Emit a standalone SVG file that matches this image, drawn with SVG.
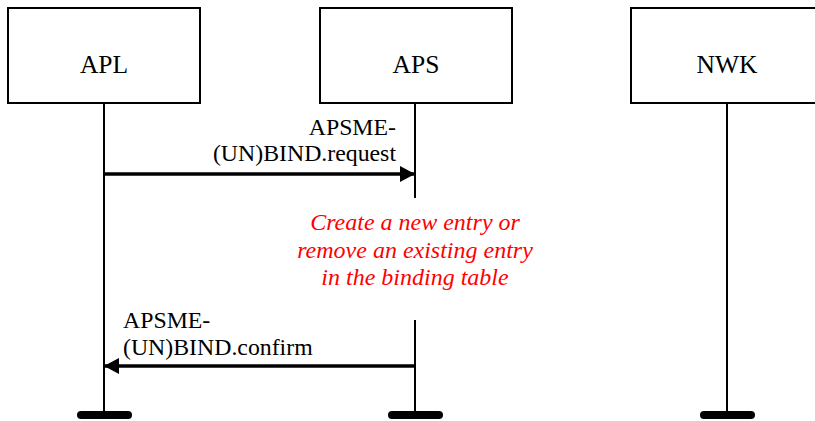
<svg xmlns="http://www.w3.org/2000/svg" width="815" height="421" viewBox="0 0 815 421">
<style>
.box{fill:#fff;stroke:#000;stroke-width:2}
.life{stroke:#000;stroke-width:2;fill:none}
.bar{stroke:#000;stroke-width:8;stroke-linecap:round}
.msg{stroke:#000;stroke-width:3.5;fill:none}
.name{font-size:25.5px;text-anchor:middle;fill:#000}
.lbl{font-size:23.8px;fill:#000}
.note{font-style:italic;font-size:24px;fill:#f00;text-anchor:middle}
</style>
<defs>
<marker id="ah" markerWidth="16" markerHeight="16" refX="15" refY="8" orient="auto" markerUnits="userSpaceOnUse">
<path d="M0,0 L15,8 L0,16 Z" fill="#000"/>
</marker>
</defs>
<g font-family="Liberation Serif, DejaVu Serif, serif">
<g id="APL">
<rect class="box" x="8" y="8" width="192" height="95"/>
<text class="name" x="104" y="73">APL</text>
<line class="life" x1="104" y1="103" x2="104" y2="414"/>
<line class="bar" x1="81" y1="415" x2="128" y2="415"/>
</g>
<g id="APS">
<rect class="box" x="320" y="8" width="192" height="95"/>
<text class="name" x="416" y="73">APS</text>
<line class="life" x1="415" y1="103" x2="415" y2="198"/>
<line class="life" x1="415" y1="320" x2="415" y2="414"/>
<line class="bar" x1="392" y1="415" x2="439" y2="415"/>
</g>
<g id="NWK">
<rect class="box" x="631" y="8" width="192" height="95"/>
<text class="name" x="727" y="73">NWK</text>
<line class="life" x1="727" y1="103" x2="727" y2="414"/>
<line class="bar" x1="704" y1="415" x2="751" y2="415"/>
</g>
<g id="connectors">
<line class="msg" x1="104" y1="174" x2="415" y2="174" marker-end="url(#ah)"/>
<line class="msg" x1="415" y1="366" x2="104" y2="366" marker-end="url(#ah)"/>
</g>
<g id="labels">
<text class="lbl" x="396" y="135" text-anchor="end">APSME-</text>
<text class="lbl" x="396" y="161" text-anchor="end">(UN)BIND.request</text>
<text class="lbl" x="123" y="328">APSME-</text>
<text class="lbl" x="123" y="355">(UN)BIND.confirm</text>
</g>
<g id="note">
<text class="note" x="415" y="230">Create a new entry or</text>
<text class="note" x="415" y="258">remove an existing entry</text>
<text class="note" x="415" y="285">in the binding table</text>
</g>
</g>
</svg>
